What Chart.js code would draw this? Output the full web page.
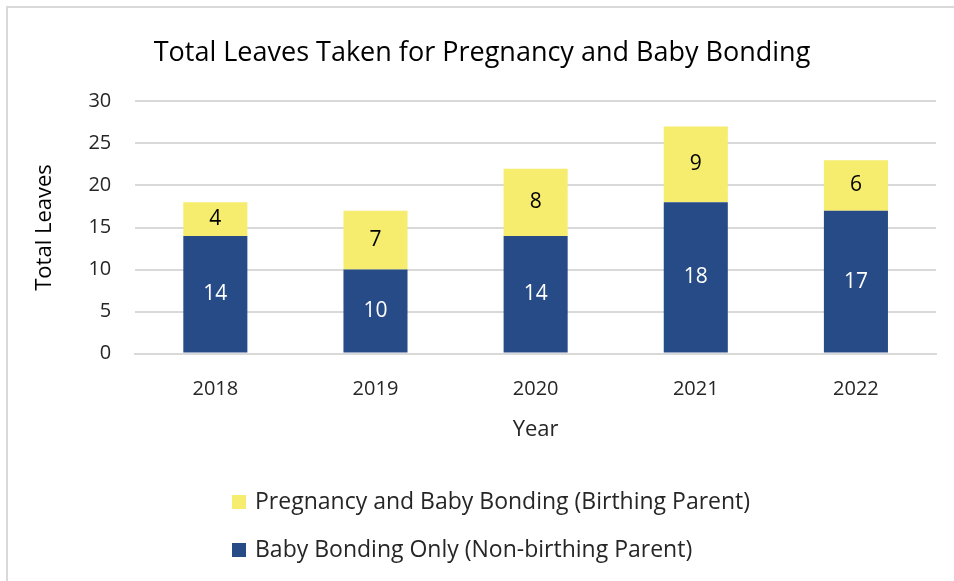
<!DOCTYPE html>
<html>
<head>
<meta charset="utf-8">
<script src="https://cdn.jsdelivr.net/npm/chart.js@4"></script>
<style>
  html, body { margin: 0; padding: 0; background: #fff; overflow: hidden; }
  #wrap { position: relative; width: 954px; height: 581px; }
  #frame { position: absolute; left: 6px; top: 6px; width: 1000px; height: 700px; border-top: 2px solid #d9d9d9; border-left: 2px solid #d9d9d9; }
  #chart { position: absolute; left: 0; top: 0; }
  #legend { position: absolute; left: 232px; top: 484px; font-family: "Open Sans", sans-serif; font-size: 23px; color: #262626; }
  #legend div { height: 32px; line-height: 32px; margin-bottom: 16px; white-space: nowrap; }
  #legend span.box { display: inline-block; width: 14px; height: 14px; margin-right: 9px; vertical-align: 0px; }
</style>
</head>
<body>
<div id="wrap">
  <div id="frame"></div>
  <canvas id="chart" width="954" height="581"></canvas>
  <div id="legend"></div>
</div>
<script>
const years = ['2018', '2019', '2020', '2021', '2022'];
const bondingOnly = [14, 10, 14, 18, 17];
const pregnancyBonding = [4, 7, 8, 9, 6];
const yTicks = [0, 5, 10, 15, 20, 25, 30];

const blue = '#264b86';
const yellow = '#f6ec6e';
const gridColor = '#d9d9d9';
const textColor = '#262626';
const fontFamily = '"Open Sans", sans-serif';

// write the value in the middle of every bar segment
const barValues = {
  id: 'barValues',
  afterDatasetsDraw(chart) {
    const ctx = chart.ctx;
    ctx.save();
    ctx.font = '21px ' + fontFamily;
    ctx.textAlign = 'center';
    ctx.textBaseline = 'middle';
    chart.data.datasets.forEach((ds, i) => {
      chart.getDatasetMeta(i).data.forEach((bar, j) => {
        const mid = (bar.y + bar.base) / 2;
        ctx.fillStyle = i === 0 ? '#ffffff' : '#000000';
        ctx.fillText(ds.data[j], bar.x, mid);
      });
    });
    ctx.restore();
  }
};

const chart = new Chart(document.getElementById('chart').getContext('2d'), {
  type: 'bar',
  data: {
    labels: years,
    datasets: [
      { label: 'Baby Bonding Only (Non-birthing Parent)', data: bondingOnly, backgroundColor: blue,
        categoryPercentage: 1, barPercentage: 0.4 },
      { label: 'Pregnancy and Baby Bonding (Birthing Parent)', data: pregnancyBonding, backgroundColor: yellow,
        categoryPercentage: 1, barPercentage: 0.4 }
    ]
  },
  options: {
    responsive: false,
    animation: false,
    events: [],
    layout: { padding: { left: 28, right: 18, top: 20, bottom: 131 } },
    plugins: {
      legend: { display: false },
      tooltip: { enabled: false },
      title: {
        display: true,
        text: 'Total Leaves Taken for Pregnancy and Baby Bonding',
        color: '#000000',
        font: { family: fontFamily, size: 27, weight: 'normal' },
        padding: { top: 17, bottom: 32 }
      }
    },
    scales: {
      x: {
        stacked: true,
        grid: { display: false, drawTicks: false },
        border: { color: gridColor, width: 2 },
        ticks: { color: textColor, font: { family: fontFamily, size: 20 }, padding: 24 },
        title: { display: true, text: 'Year', color: textColor, font: { family: fontFamily, size: 22 }, padding: { top: -9, bottom: 7 } }
      },
      y: {
        stacked: true,
        min: 0,
        max: 30,
        afterBuildTicks(scale) { scale.ticks = yTicks.map(v => ({ value: v })); },
        grid: { color: gridColor, lineWidth: 2, drawTicks: false },
        border: { display: false },
        ticks: { color: textColor, font: { family: fontFamily, size: 20 }, padding: 24 },
        title: { display: true, text: 'Total Leaves', color: '#000000', font: { family: fontFamily, size: 22 }, padding: { top: 4, bottom: 6 } }
      }
    }
  },
  plugins: [barValues]
});

// legend: birthing parent first, like the original
const legend = document.getElementById('legend');
chart.data.datasets.slice().reverse().forEach(ds => {
  const row = document.createElement('div');
  const box = document.createElement('span');
  box.className = 'box';
  box.style.background = ds.backgroundColor;
  row.appendChild(box);
  row.appendChild(document.createTextNode(ds.label));
  legend.appendChild(row);
});
</script>
</body>
</html>
